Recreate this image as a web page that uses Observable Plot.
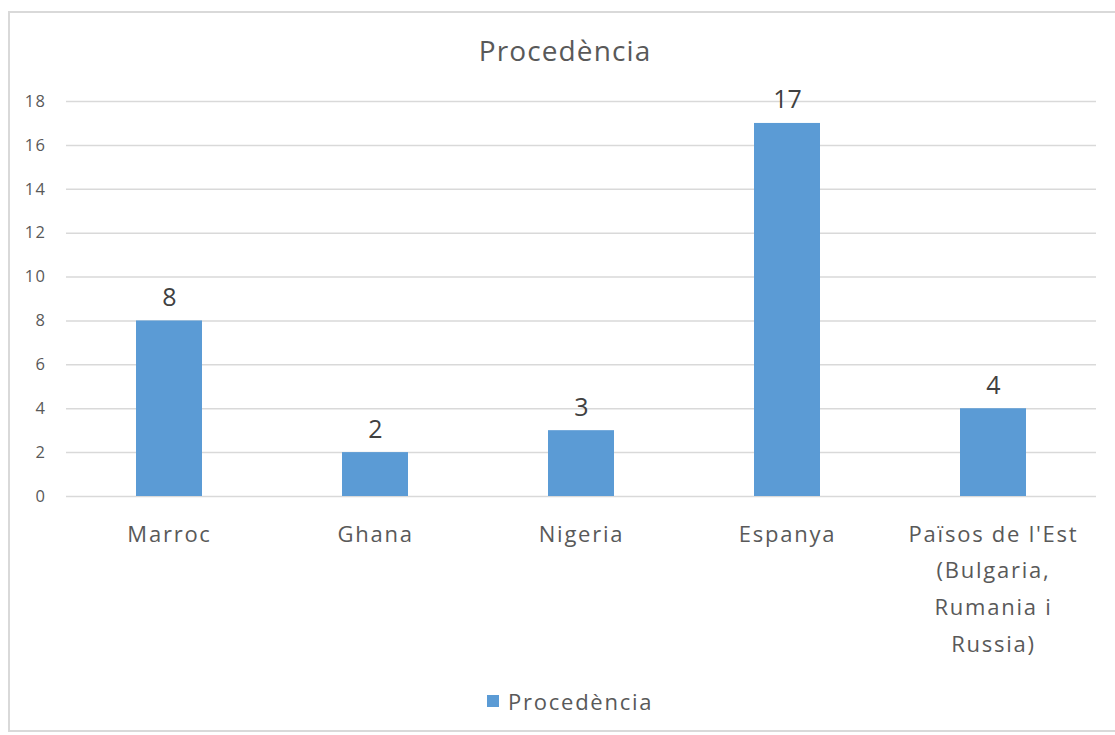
<!DOCTYPE html>
<html>
<head>
<meta charset="utf-8">
<script src="https://cdn.jsdelivr.net/npm/d3@7"></script>
<script src="https://cdn.jsdelivr.net/npm/@observablehq/plot@0.6"></script>
<style>
  html, body { margin: 0; padding: 0; background: #fff; }
  body { width: 1115px; height: 735px; position: relative; overflow: hidden; font-family: "Open Sans", "Noto Sans", sans-serif; }
  #frame { position: absolute; left: 8px; top: 11px; width: 1200px; height: 721px; border: 2px solid #d9d9d9; box-sizing: border-box; }
  #title { position: absolute; left: 0; width: 1130px; top: 31px; text-align: center; font-size: 28px; line-height: 38px; color: #595959; letter-spacing: 0.04em; }
  #chart { position: absolute; left: 0; top: 80px; }
  #legend { position: absolute; top: 686px; left: 487px; font-size: 22px; line-height: 30px; color: #595959; display: flex; align-items: center; letter-spacing: 0.08em; }
  #legend .sw { width: 12px; height: 12px; background: #5b9bd5; margin-right: 9px; }
</style>
</head>
<body>
<div id="frame"></div>
<div id="title">Procedència</div>
<div id="chart"></div>
<div id="legend"><span class="sw"></span><span>Procedència</span></div>
<script>
const categories = ["Marroc", "Ghana", "Nigeria", "Espanya", "Països de l'Est (Bulgaria, Rumania i Russia)"];
const tickLabels = ["Marroc", "Ghana", "Nigeria", "Espanya", "Països de l'Est\n(Bulgaria,\nRumania i\nRussia)"];
const values = [8, 2, 3, 17, 4];
const yTicks = [0, 2, 4, 6, 8, 10, 12, 14, 16, 18];

const data = categories.map((c, i) => ({cat: c, label: tickLabels[i], value: values[i]}));

const chart = Plot.plot({
  width: 1115,
  height: 600,
  marginTop: 21,
  marginBottom: 184,
  marginLeft: 66,
  marginRight: 19,
  style: {fontFamily: "'Open Sans', 'Noto Sans', sans-serif", background: "transparent"},
  x: {domain: categories, paddingInner: 0.68, paddingOuter: 0.34, axis: null},
  y: {domain: [0, 18], axis: null},
  marks: [
    Plot.ruleY(yTicks, {y: d => d, stroke: "#d9d9d9", strokeWidth: 1.5}),
    Plot.text(yTicks, {y: d => d, text: d => String(d), frameAnchor: "left", dx: -20, textAnchor: "end", fontSize: 16.5, fill: "#595959", style: "letter-spacing:0.08em"}),
    Plot.barY(data, {x: "cat", y: "value", fill: "#5b9bd5"}),
    Plot.text(data, {x: "cat", y: "value", text: d => String(d.value), dy: -15, lineAnchor: "bottom", fontSize: 25, fill: "#404040"}),
    Plot.text(data, {x: "cat", y: 0, text: "label", dy: 19, lineAnchor: "top", lineHeight: 1.67, fontSize: 22, fill: "#595959"})
  ]
});
chart.querySelectorAll("text").forEach(t => {
  const fs = parseFloat(t.parentNode.getAttribute("font-size") || t.getAttribute("font-size") || 0);
  if (fs === 22) t.style.letterSpacing = "0.08em";
  if (fs === 16.5) t.style.letterSpacing = "0.09em";
});
document.getElementById("chart").appendChild(chart);
</script>
</body>
</html>
